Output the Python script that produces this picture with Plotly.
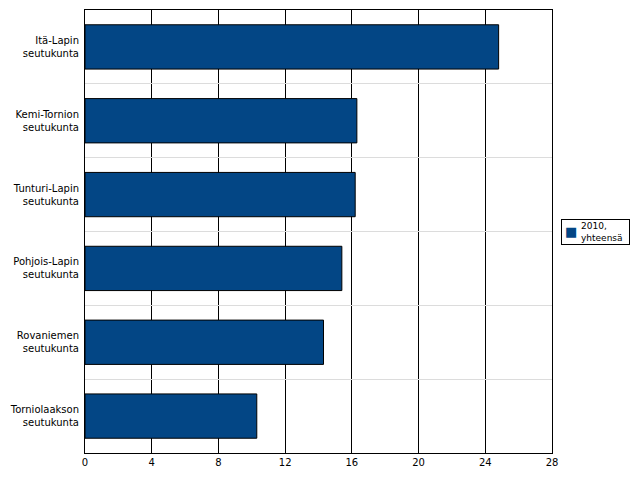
import plotly.graph_objects as go

regions = [
    "Itä-Lapin<br>seutukunta",
    "Kemi-Tornion<br>seutukunta",
    "Tunturi-Lapin<br>seutukunta",
    "Pohjois-Lapin<br>seutukunta",
    "Rovaniemen<br>seutukunta",
    "Torniolaakson<br>seutukunta",
]
values_2010 = [24.8, 16.3, 16.2, 15.4, 14.3, 10.3]
x_ticks = [0, 4, 8, 12, 16, 20, 24, 28]
series_name = "2010,<br>yhteensä"
bar_color = "#034685"

fig = go.Figure(go.Bar(
    x=values_2010,
    y=regions,
    orientation="h",
    name=series_name,
    marker=dict(color=bar_color, line=dict(color="black", width=1)),
    showlegend=False,
))

# plotly's own legend doesn't fit in the right margin -> build a small one by hand
fig.add_annotation(
    xref="paper", yref="paper", x=1.019, y=0.528,
    xanchor="left", yanchor="top",
    text="&nbsp;", width=67, height=24, showarrow=False,
    bordercolor="black", borderwidth=1, borderpad=0,
)
fig.add_annotation(
    xref="paper", yref="paper", x=1.041, y=0.501,
    xanchor="center", yanchor="middle",
    text="■", showarrow=False,
    font=dict(size=13, color=bar_color),
)
fig.add_annotation(
    xref="paper", yref="paper", x=1.058, y=0.499,
    xanchor="left", yanchor="middle",
    text=series_name, align="left", showarrow=False,
    font=dict(size=9),
)

fig.update_layout(
    width=640,
    height=480,
    margin=dict(l=85, r=88, t=10, b=27, autoexpand=False),
    plot_bgcolor="white",
    paper_bgcolor="white",
    font=dict(family="DejaVu Sans", size=10, color="black"),
    bargap=0.4,
)

fig.update_xaxes(
    range=[0, 28],
    tickvals=x_ticks,
    showgrid=True,
    gridcolor="black",
    gridwidth=1,
    zeroline=False,
    showline=True,
    linecolor="black",
    linewidth=1,
    mirror=True,
    ticks="",
    automargin=False,
)

fig.update_yaxes(
    autorange="reversed",
    tickson="boundaries",
    showgrid=True,
    gridcolor="#dcdcdc",
    gridwidth=1,
    showline=True,
    linecolor="black",
    linewidth=1,
    mirror=True,
    ticks="",
    ticklabelstandoff=3,
    automargin=False,
)

fig.write_html(
    "out.html",
    config={"displayModeBar": False},
    post_script="document.body.style.margin='0';",
)
